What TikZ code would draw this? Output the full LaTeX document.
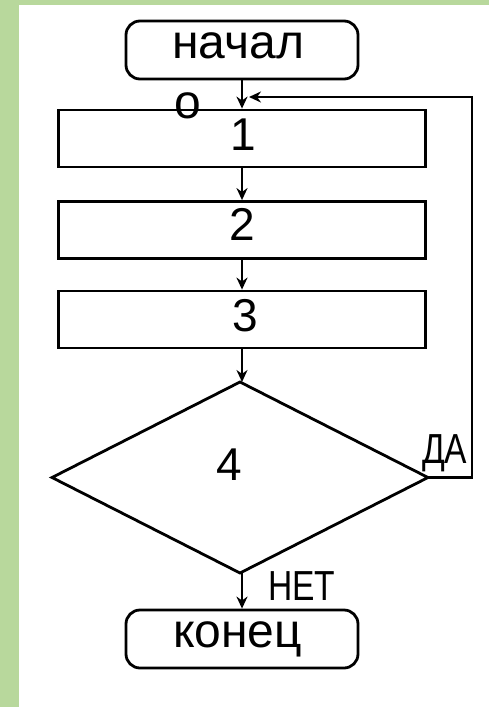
\documentclass[tikz,border=0pt]{standalone}
\usepackage{fontspec}
\setmainfont{Liberation Sans}
\usetikzlibrary{arrows.meta,shapes.geometric}
\definecolor{bggreen}{RGB}{184,216,156}
\begin{document}
\begin{tikzpicture}[x=1pt,y=-1pt,
  boxstyle/.style={draw, line width=2.8pt, rectangle, inner sep=0pt, minimum width=367pt, minimum height=57pt},
  termstyle/.style={draw, line width=2.8pt, rounded corners=14pt, inner sep=0pt, minimum width=232pt, minimum height=58pt},
  decstyle/.style={draw, line width=2.8pt, diamond, inner sep=0pt, outer sep=0pt, minimum width=376pt, minimum height=191pt},
  bigtxt/.style={font=\fontsize{48}{50}\selectfont, inner sep=0pt, anchor=base west},
  digit/.style={font=\fontsize{46}{50}\selectfont, inner sep=0pt, anchor=base},
  smalltxt/.style={font=\fontsize{42}{44}\selectfont, inner sep=0pt, xscale=0.8, anchor=base west},
  arr/.style={-{Stealth[length=12pt,width=11pt]}, line width=2.4pt},
]
\useasboundingbox (0,0) rectangle (489,707);
\fill[white] (0,0) rectangle (489,707);
\fill[bggreen] (0,0) rectangle (489,5);
\fill[bggreen] (0,0) rectangle (19,707);

\node[termstyle] (start) at (242,50) {};
\node[bigtxt] (t1) at (172,58) {начал};
\node[bigtxt] (t2) at (174,118) {о};

\node[boxstyle] (b1) at (242,138.5) {};
\node[digit] (n1) at (243,150) {1};
\node[boxstyle] (b2) at (242,230) {};
\node[digit] (n2) at (242,240) {2};
\node[boxstyle] (b3) at (242,319.5) {};
\node[digit] (n3) at (245,331) {3};

\node[decstyle] (d4) at (240,477.5) {};
\node[digit] (n4) at (229,480) {4};

\node[termstyle] (end) at (242,639) {};
\node[bigtxt] (t3) at (173,647) {конец};

\node[smalltxt] (da) at (422,463) {ДА};
\node[smalltxt] (net) at (268,600) {НЕТ};

\coordinate (lc) at (472,97);
\coordinate (lend) at (249,97);

\draw[arr] (start.south) -- (b1.north);
\draw[arr] (b1.south) -- (b2.north);
\draw[arr] (b2.south) -- (b3.north);
\draw[arr] (b3.south) -- (b3.south |- d4.north);
\draw[arr] (d4.south -| end.north) -- (end.north);
\draw[arr] (d4.east) -| (lc) -- (lend);
\end{tikzpicture}
\end{document}
